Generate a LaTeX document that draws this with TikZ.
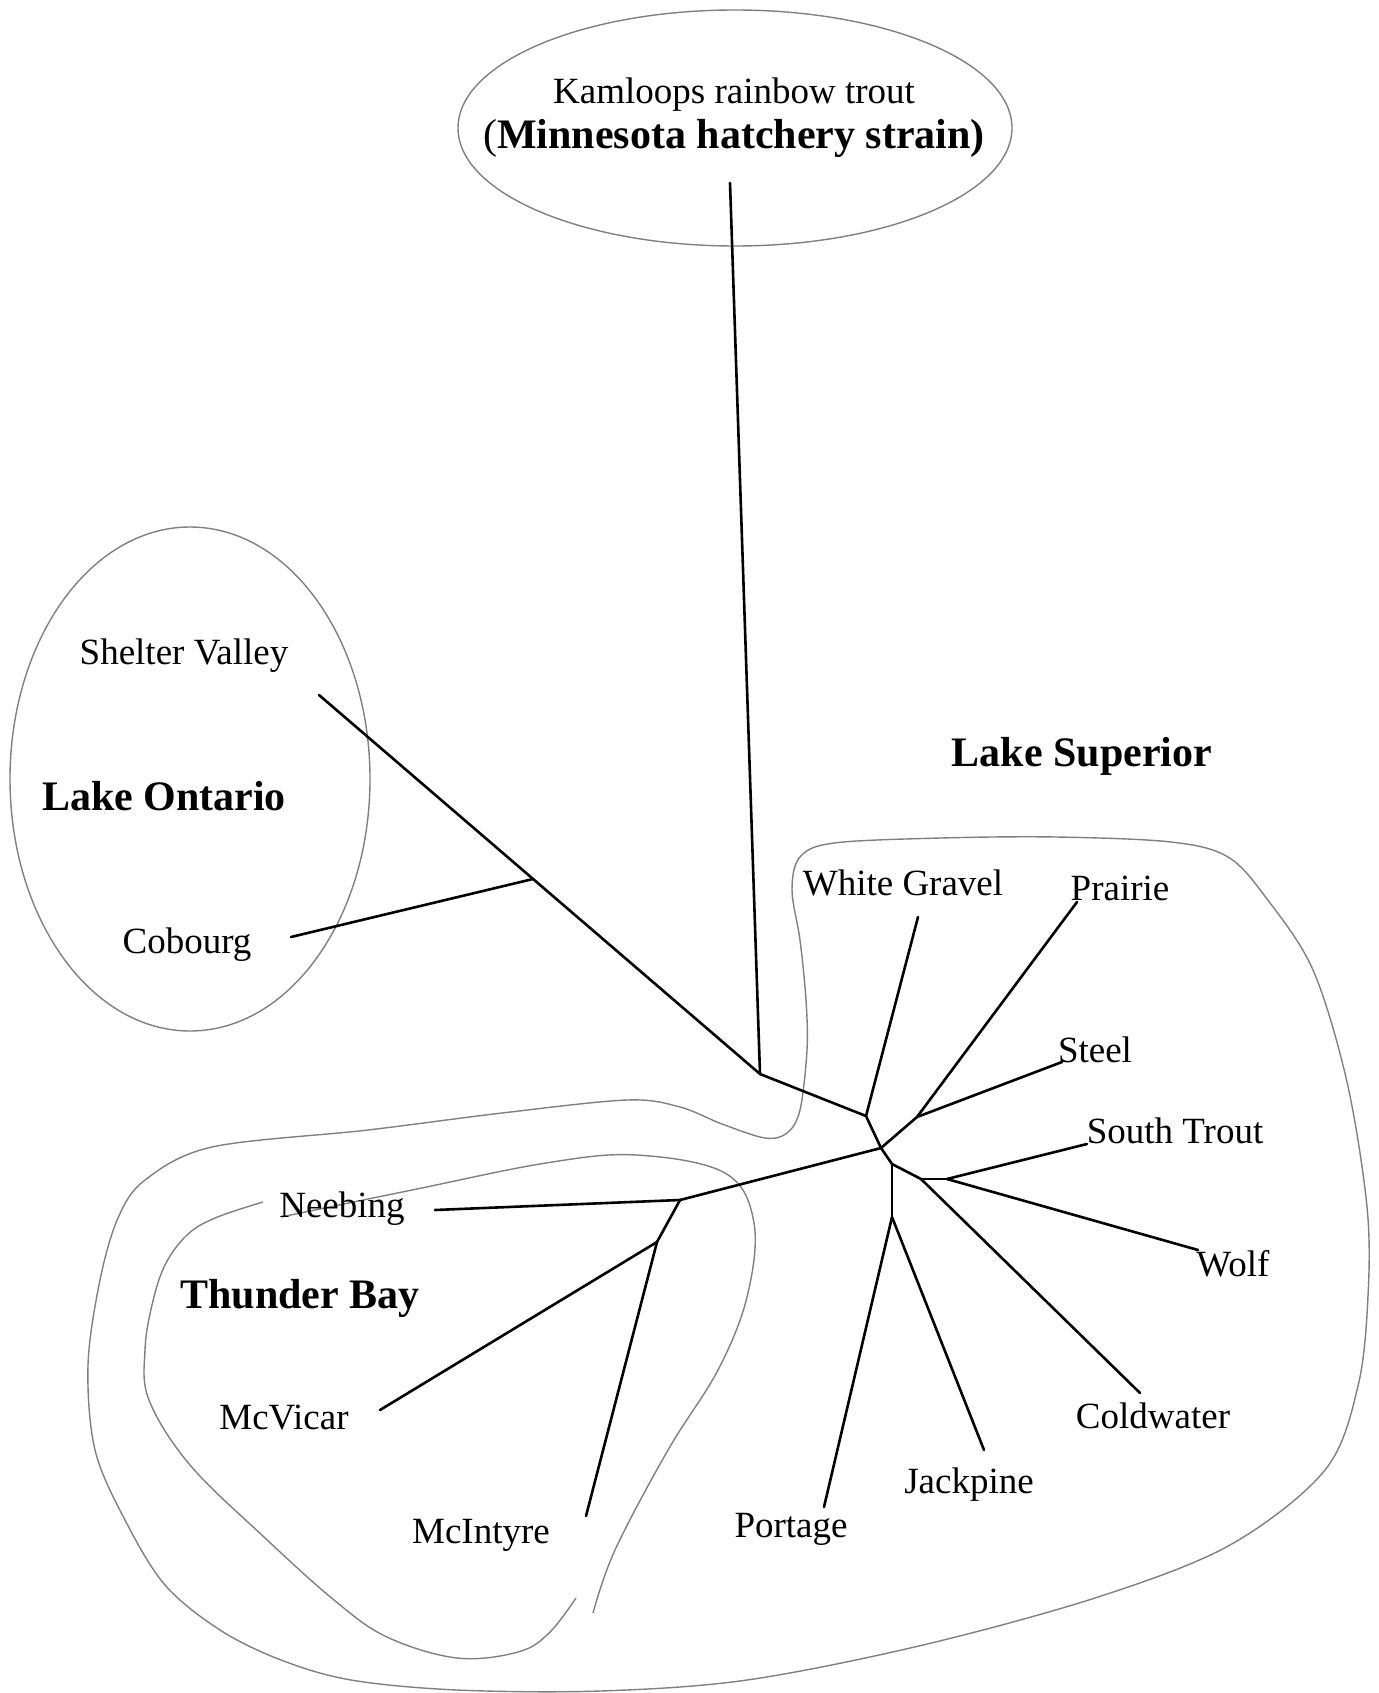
\documentclass[tikz,border=0pt]{standalone}
\usepackage{fontspec}
\setmainfont{Liberation Serif}
\begin{document}
\begin{tikzpicture}[x=1pt,y=-1pt,
  br/.style={line width=2.6pt, line cap=round, line join=round},
  ct/.style={draw=black!50, line width=1.4pt},
  lab/.style={anchor=base, inner sep=0pt, font=\fontsize{37}{40}\selectfont},
  blab/.style={anchor=base, inner sep=0pt, font=\fontsize{42}{46}\selectfont\bfseries}]
\useasboundingbox (0,0) rectangle (1378,1693);

% group outlines
\draw[ct] (735,128) ellipse [x radius=277, y radius=118];
\draw[ct] (190,779) ellipse [x radius=180, y radius=252];
\draw[ct] plot[smooth cycle, tension=0.55] coordinates {
  (765,1138) (787,1133) (800,1110) (807,1050) (806,1000) (800,940) (792,890)
  (800,857) (834,843) (941,838) (1056,837) (1171,842) (1228,857) (1267,899)
  (1313,970) (1347,1082) (1367,1207) (1368,1296) (1358,1386) (1325,1470)
  (1230,1545) (1098,1597) (923,1645) (747,1680) (600,1691) (457,1690)
  (351,1680) (281,1660) (220,1630) (165,1585) (125,1520) (95,1450) (88,1365)
  (100,1280) (118,1218) (145,1180) (212,1147) (368,1130) (502,1113) (627,1100)
  (680,1107) (722,1124)};
\draw[ct] plot[smooth, tension=0.6] coordinates {
  (263,1202) (215,1218) (187,1235) (165,1265) (152,1305) (145,1350) (149,1400)
  (190,1465) (264,1537) (334,1600) (387,1637) (457,1658) (518,1652) (549,1633) (576,1598)};
\draw[ct] plot[smooth, tension=0.6] coordinates {
  (593,1613) (615,1550) (668,1450) (718,1370) (747,1297) (754,1223) (725,1173)
  (636,1155) (546,1163) (412,1190) (281,1217)};

% tree points
\coordinate (Kt) at (730,183);
\coordinate (A) at (760,1074);
\coordinate (SVe) at (319,695);
\coordinate (Cj) at (533,879);
\coordinate (Ce) at (291,937);
\coordinate (B) at (866,1116);
\coordinate (WGe) at (918,917);
\coordinate (C) at (881,1148);
\coordinate (D) at (917,1117);
\coordinate (Pe) at (1077,902);
\coordinate (Se) at (1062,1062);
\coordinate (F) at (892,1164);
\coordinate (G) at (921,1179);
\coordinate (H) at (947,1179);
\coordinate (STe) at (1087,1144);
\coordinate (We) at (1198,1250);
\coordinate (CWe) at (1140,1393);
\coordinate (J) at (892,1217);
\coordinate (POe) at (824,1507);
\coordinate (JPe) at (984,1450);
\coordinate (E) at (680,1200);
\coordinate (Ne) at (435,1210);
\coordinate (I) at (657,1242);
\coordinate (MVe) at (380,1410);
\coordinate (MIe) at (586,1516);

\draw[br] (Kt) -- (A);
\draw[br] (SVe) -- (A);
\draw[br] (Cj) -- (Ce);
\draw[br] (A) -- (B);
\draw[br] (B) -- (WGe);
\draw[br] (B) -- (C);
\draw[br] (C) -- (D);
\draw[br] (D) -- (Pe);
\draw[br] (D) -- (Se);
\draw[br] (C) -- (E);
\draw[br] (E) -- (Ne);
\draw[br] (E) -- (I);
\draw[br] (I) -- (MVe);
\draw[br] (I) -- (MIe);
\draw[br] (C) -- (F);
\draw[br] (F) -- (G);
\draw[br] (G) -- (H);
\draw[br] (H) -- (STe);
\draw[br] (H) -- (We);
\draw[br] (G) -- (CWe);
\draw[br] (F) -- (J);
\draw[br] (J) -- (POe);
\draw[br] (J) -- (JPe);

% labels
\node[lab] (kam) at (734,104) {Kamloops rainbow trout};
\node[anchor=base, inner sep=0pt, font=\fontsize{42}{46}\selectfont] (minn) at (734,149) {(\textbf{Minnesota hatchery strain)}};
\node[lab] (sv) at (184,664) {Shelter Valley};
\node[blab] (lo) at (164,810) {Lake Ontario};
\node[lab] (cob) at (187,953) {Cobourg};
\node[blab] (ls) at (1082,766) {Lake Superior};
\node[lab] (wg) at (903,895) {White Gravel};
\node[lab] (pr) at (1120,900) {Prairie};
\node[lab] (st) at (1095,1062) {Steel};
\node[lab] (sot) at (1175,1143) {South Trout};
\node[lab] (wo) at (1233,1276) {Wolf};
\node[lab] (cw) at (1153,1428) {Coldwater};
\node[lab] (jp) at (969,1493) {Jackpine};
\node[lab] (po) at (791,1537) {Portage};
\node[lab] (mi) at (481,1543) {McIntyre};
\node[lab] (mv) at (284,1429) {McVicar};
\node[lab] (nb) at (342,1217) {Neebing};
\node[blab] (tb) at (300,1308) {Thunder Bay};
\end{tikzpicture}
\end{document}
